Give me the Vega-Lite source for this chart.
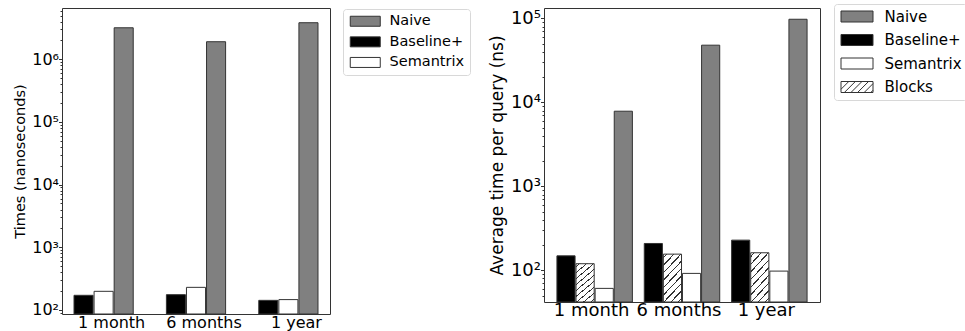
{
  "$schema": "https://vega.github.io/schema/vega-lite/v6.json",
  "padding": {"left": 12, "top": 2, "right": 0, "bottom": 0},
  "bounds": "flush",
  "spacing": 214,
  "datasets": {
    "left": [
      {"period": "1 month", "method": "Baseline+", "time": 171},
      {"period": "1 month", "method": "Semantrix", "time": 198},
      {"period": "1 month", "method": "Naive", "time": 3190000},
      {"period": "6 months", "method": "Baseline+", "time": 175},
      {"period": "6 months", "method": "Semantrix", "time": 229},
      {"period": "6 months", "method": "Naive", "time": 1910000},
      {"period": "1 year", "method": "Baseline+", "time": 142},
      {"period": "1 year", "method": "Semantrix", "time": 146},
      {"period": "1 year", "method": "Naive", "time": 3840000}
    ],
    "right": [
      {"period": "1 month", "method": "Baseline+", "time": 149},
      {"period": "1 month", "method": "Blocks", "time": 120},
      {"period": "1 month", "method": "Semantrix", "time": 61},
      {"period": "1 month", "method": "Naive", "time": 7850},
      {"period": "6 months", "method": "Baseline+", "time": 209},
      {"period": "6 months", "method": "Blocks", "time": 156},
      {"period": "6 months", "method": "Semantrix", "time": 92},
      {"period": "6 months", "method": "Naive", "time": 48000},
      {"period": "1 year", "method": "Baseline+", "time": 229},
      {"period": "1 year", "method": "Blocks", "time": 162},
      {"period": "1 year", "method": "Semantrix", "time": 98},
      {"period": "1 year", "method": "Naive", "time": 97700}
    ]
  },
  "resolve": {"scale": {"fill": "independent", "xOffset": "independent", "x": "independent", "y": "independent"}},
  "hconcat": [
    {
      "width": 268,
      "height": 306,
      "data": {"name": "left"},
      "mark": {"type": "bar", "stroke": "#333", "strokeWidth": 1},
      "encoding": {
        "x": {"field": "period", "type": "nominal", "sort": ["1 month", "6 months", "1 year"],
          "scale": {"paddingInner": 0.359, "paddingOuter": 0.13},
          "axis": {"title": null, "labelAngle": 0, "labelFontSize": 16, "ticks": false, "tickSize": 0, "labelPadding": 0, "labelOffset": 8}},
        "xOffset": {"field": "method", "type": "nominal", "sort": ["Baseline+", "Semantrix", "Naive"],
          "scale": {"domain": ["Baseline+", "Semantrix", "Naive"], "paddingInner": 0.05, "paddingOuter": 0}},
        "y": {"field": "time", "type": "quantitative",
          "scale": {"type": "log", "domain": [86, 6600000], "nice": false},
          "axis": {"title": "Times (nanoseconds)", "titleFontSize": 14.5, "labelFontSize": 16, "labelOverlap": false, "labelPadding": 0,
            "values": [90, 100, 200, 300, 400, 500, 600, 700, 800, 900, 1000, 2000, 3000, 4000, 5000, 6000, 7000, 8000, 9000, 10000, 20000, 30000, 40000, 50000, 60000, 70000, 80000, 90000, 100000, 200000, 300000, 400000, 500000, 600000, 700000, 800000, 900000, 1000000, 2000000, 3000000, 4000000, 5000000, 6000000],
            "labelExpr": "abs(log(datum.value)/LN10 - round(log(datum.value)/LN10)) < 0.01 ? '10' + substring('⁰¹²³⁴⁵⁶⁷⁸⁹', round(log(datum.value)/LN10), round(log(datum.value)/LN10)+1) : ''",
            "tickSize": {"condition": {"test": "abs(log(datum.value)/LN10 - round(log(datum.value)/LN10)) < 0.01", "value": 3.5}, "value": 2}}},
        "y2": {"datum": 86},
        "fill": {"field": "method", "type": "nominal",
          "scale": {"domain": ["Naive", "Baseline+", "Semantrix"], "range": ["#808080", "#000000", "#ffffff"]},
          "legend": {"title": null, "orient": "none", "legendX": 281, "legendY": 1, "labelFontSize": 14.5, "labelOffset": 17, "padding": 5, "rowPadding": 4.6,
            "symbolType": "M-3,-1L3,-1L3,1L-3,1Z", "symbolSize": 100, "symbolOffset": 10, "symbolStrokeColor": "#333", "symbolStrokeWidth": 1,
            "strokeColor": "#d8d8d8", "cornerRadius": 3}}
      }
    },
    {
      "width": 276,
      "height": 294,
      "data": {"name": "right"},
      "mark": {"type": "bar", "stroke": "#333", "strokeWidth": 1},
      "encoding": {
        "x": {"field": "period", "type": "nominal", "sort": ["1 month", "6 months", "1 year"],
          "scale": {"paddingInner": 0.136, "paddingOuter": 0.148},
          "axis": {"title": null, "labelAngle": 0, "labelFontSize": 18, "ticks": false, "tickSize": 0, "labelPadding": -1, "labelOffset": -3}},
        "xOffset": {"field": "method", "type": "nominal", "sort": ["Baseline+", "Blocks", "Semantrix", "Naive"],
          "scale": {"domain": ["Baseline+", "Blocks", "Semantrix", "Naive"], "paddingInner": 0.05, "paddingOuter": 0}},
        "y": {"field": "time", "type": "quantitative",
          "scale": {"type": "log", "domain": [42, 133000], "nice": false},
          "axis": {"title": "Average time per query (ns)", "titleFontSize": 17, "labelFontSize": 18, "labelOverlap": false, "labelPadding": 0,
            "values": [50, 60, 70, 80, 90, 100, 200, 300, 400, 500, 600, 700, 800, 900, 1000, 2000, 3000, 4000, 5000, 6000, 7000, 8000, 9000, 10000, 20000, 30000, 40000, 50000, 60000, 70000, 80000, 90000, 100000],
            "labelExpr": "abs(log(datum.value)/LN10 - round(log(datum.value)/LN10)) < 0.01 ? '10' + substring('⁰¹²³⁴⁵⁶⁷⁸⁹', round(log(datum.value)/LN10), round(log(datum.value)/LN10)+1) : ''",
            "tickSize": {"condition": {"test": "abs(log(datum.value)/LN10 - round(log(datum.value)/LN10)) < 0.01", "value": 3.5}, "value": 2}}},
        "y2": {"datum": 42},
        "fill": {
          "condition": {"test": "datum.method === 'Blocks'",
            "value": {"gradient": "linear", "x1": 0, "y1": 0, "x2": 0.483, "y2": 1.207,
               "stops": [
                 {"offset": 0, "color": "#ffffff"},
                 {"offset": 0.045, "color": "#ffffff"}, {"offset": 0.045, "color": "#333333"}, {"offset": 0.067, "color": "#333333"}, {"offset": 0.067, "color": "#ffffff"},
                 {"offset": 0.156, "color": "#ffffff"}, {"offset": 0.156, "color": "#333333"}, {"offset": 0.178, "color": "#333333"}, {"offset": 0.178, "color": "#ffffff"},
                 {"offset": 0.267, "color": "#ffffff"}, {"offset": 0.267, "color": "#333333"}, {"offset": 0.289, "color": "#333333"}, {"offset": 0.289, "color": "#ffffff"},
                 {"offset": 0.378, "color": "#ffffff"}, {"offset": 0.378, "color": "#333333"}, {"offset": 0.4, "color": "#333333"}, {"offset": 0.4, "color": "#ffffff"},
                 {"offset": 0.489, "color": "#ffffff"}, {"offset": 0.489, "color": "#333333"}, {"offset": 0.511, "color": "#333333"}, {"offset": 0.511, "color": "#ffffff"},
                 {"offset": 0.6, "color": "#ffffff"}, {"offset": 0.6, "color": "#333333"}, {"offset": 0.622, "color": "#333333"}, {"offset": 0.622, "color": "#ffffff"},
                 {"offset": 0.711, "color": "#ffffff"}, {"offset": 0.711, "color": "#333333"}, {"offset": 0.733, "color": "#333333"}, {"offset": 0.733, "color": "#ffffff"},
                 {"offset": 0.822, "color": "#ffffff"}, {"offset": 0.822, "color": "#333333"}, {"offset": 0.844, "color": "#333333"}, {"offset": 0.844, "color": "#ffffff"},
                 {"offset": 0.933, "color": "#ffffff"}, {"offset": 0.933, "color": "#333333"}, {"offset": 0.955, "color": "#333333"}, {"offset": 0.955, "color": "#ffffff"},
                 {"offset": 1, "color": "#ffffff"}
               ]}},
          "field": "method", "type": "nominal",
          "scale": {"domain": ["Naive", "Baseline+", "Semantrix", "Blocks"], "range": ["#808080", "#000000", "#ffffff", "#ffffff"]},
          "legend": {"title": null, "orient": "none", "legendX": 290, "legendY": -4, "labelFontSize": 15, "labelOffset": 20, "padding": 5, "rowPadding": 7.5,
            "symbolType": "M-2.909,-1L2.909,-1L2.909,1L-2.909,1Z", "symbolSize": 121, "symbolOffset": 10.5, "symbolStrokeColor": "#333", "symbolStrokeWidth": 1,
            "strokeColor": "#d8d8d8", "cornerRadius": 3,
            "encode": {"symbols": {"update": {
              "stroke": {"value": "#333333"},
              "strokeWidth": {"value": 1},
              "shape": {"signal": "datum.value === 'Blocks' ? 'M-2.909,-1L2.909,-1L2.909,1L-2.909,1ZM-2.909,0.409L-1.5,-1M-2.3,1L-0.3,-1M-1.1,1L0.9,-1M0.1,1L2.1,-1M1.3,1L2.909,-0.609M2.5,1L2.909,0.591' : 'M-2.909,-1L2.909,-1L2.909,1L-2.909,1Z'"},
              "fill": {"signal": "datum.value === 'Naive' ? '#808080' : datum.value === 'Baseline+' ? '#000000' : '#ffffff'"}
            }}}}}
      }
    }
  ],
  "config": {
    "font": "DejaVu Sans",
    "view": {"stroke": "#333", "strokeWidth": 1},
    "axis": {"domain": false, "grid": false, "labelColor": "#000", "titleColor": "#000", "titleFontWeight": "normal", "tickColor": "#333", "labelFont": "DejaVu Sans", "titleFont": "DejaVu Sans"},
    "legend": {"labelColor": "#000", "labelFont": "DejaVu Sans"}
  }
}
